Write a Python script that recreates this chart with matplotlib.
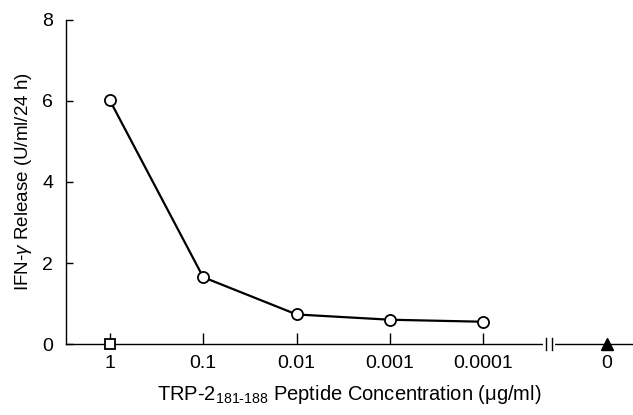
import matplotlib.pyplot as plt

plt.rcParams["font.family"] = ["Liberation Sans", "DejaVu Sans"]
plt.rcParams["mathtext.fontset"] = "custom"
plt.rcParams["mathtext.rm"] = "Liberation Sans"
plt.rcParams["mathtext.it"] = "Liberation Sans:italic"

tick_labels = ["1", "0.1", "0.01", "0.001", "0.0001", "0"]
tick_pos = [0, 1, 2, 3, 4, 5.32]
ifn_release = [6.02, 1.65, 0.73, 0.6, 0.55]
control_square = 0.0
control_triangle = 0.0

fig = plt.figure(figsize=(6.33, 4.15), dpi=100)
ax = fig.add_axes([0.104, 0.171, 0.896, 0.781])

ax.plot(tick_pos[:5], ifn_release, color="black", linewidth=1.6, marker="o",
        markersize=8, markerfacecolor="white", markeredgecolor="black",
        markeredgewidth=1.3, clip_on=False, zorder=3)
ax.plot([tick_pos[0]], [control_square], marker="s", markersize=7.5,
        markerfacecolor="white", markeredgecolor="black", markeredgewidth=1.3,
        linestyle="none", clip_on=False, zorder=4)
ax.plot([tick_pos[5]], [control_triangle], marker="^", markersize=9,
        color="black", linestyle="none", clip_on=False, zorder=4)

ax.set_xlim(-0.47, 5.6)
ax.set_ylim(0, 8)
ax.set_yticks([0, 2, 4, 6, 8])
ax.set_xticks(tick_pos)
ax.set_xticklabels(tick_labels)
ax.tick_params(axis="both", direction="in", labelsize=14, width=1)
ax.tick_params(axis="x", length=8, pad=8)
ax.tick_params(axis="y", length=5, pad=9)
ax.xaxis.get_major_ticks()[5].tick1line.set_visible(False)

for s in ["top", "right"]:
    ax.spines[s].set_visible(False)
ax.spines["left"].set_linewidth(1)
ax.spines["bottom"].set_linewidth(1)

# axis break
ax.plot([4.66, 4.74], [0, 0], color="white", linewidth=3, clip_on=False, zorder=5)
for bx in [4.665, 4.735]:
    ax.plot([bx, bx], [-0.15, 0.15], color="black", linewidth=1, clip_on=False, zorder=6)

ax.set_ylabel(r"IFN-$\gamma$ Release (U/ml/24 h)", fontsize=13.5, labelpad=6)
ax.set_xlabel(r"TRP-2$_{\mathregular{181\text{-}188}}$ Peptide Concentration ($\mathregular{\mu}$g/ml)",
              fontsize=14.5, labelpad=8)

plt.savefig("out.png", dpi=100)
